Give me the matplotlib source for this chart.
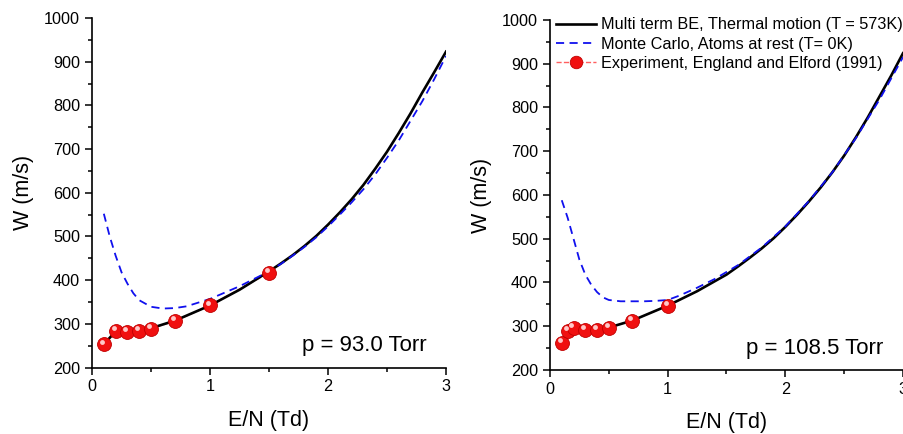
"""Drift velocity vs reduced field at two pressures."""

import matplotlib.pyplot as plt
import matplotlib.transforms as mtransforms
from matplotlib.lines import Line2D
from matplotlib.ticker import MultipleLocator

plt.rcParams["font.family"] = ["Liberation Sans", "DejaVu Sans"]

# --- p = 93.0 Torr ---
be_x_93 = [0.1, 0.2, 0.3, 0.4, 0.5, 0.7, 1.0, 1.25, 1.5, 1.6, 1.7, 1.8, 1.9, 2.0,
           2.1, 2.2, 2.3, 2.4, 2.5, 2.6, 2.7, 2.8, 2.9, 3.0]
be_w_93 = [253, 283, 284, 285, 290, 307, 342, 378, 420, 438, 457, 478, 501, 527,
           555, 585, 618, 655, 694, 737, 782, 830, 876, 923]
mc_x_93 = [0.1, 0.15, 0.2, 0.25, 0.3, 0.35, 0.4, 0.5, 0.6, 0.7, 0.8, 1.0, 1.25, 1.5,
           1.6, 1.7, 1.8, 1.9, 2.0, 2.1, 2.2, 2.3, 2.4, 2.5, 2.6, 2.7, 2.8, 2.9, 3.0]
mc_w_93 = [552, 500, 456, 418, 392, 370, 354, 339, 335, 336, 340, 357, 386, 420,
           437, 456, 476, 498, 523, 550, 578, 608, 642, 680, 720, 765, 810, 860, 913]
exp_x_93 = [0.1, 0.2, 0.3, 0.4, 0.5, 0.7, 1.0, 1.5]
exp_w_93 = [253, 283, 282, 283, 289, 306, 342, 417]

# --- p = 108.5 Torr ---
be_x_108 = [0.1, 0.15, 0.2, 0.3, 0.4, 0.5, 0.7, 1.0, 1.25, 1.5, 1.6, 1.7, 1.8, 1.9,
            2.0, 2.1, 2.2, 2.3, 2.4, 2.5, 2.6, 2.7, 2.8, 2.9, 3.0]
be_w_108 = [262, 290, 297, 291, 291, 297, 313, 347, 380, 418, 437, 457, 478, 501,
            527, 555, 585, 617, 652, 690, 732, 777, 825, 873, 924]
mc_x_108 = [0.1, 0.15, 0.2, 0.25, 0.3, 0.35, 0.4, 0.45, 0.5, 0.6, 0.7, 0.8, 0.9, 1.0,
            1.1, 1.25, 1.4, 1.6, 1.8, 2.0, 2.2, 2.4, 2.6, 2.8, 3.0]
mc_w_108 = [588, 548, 500, 452, 418, 395, 378, 366, 360, 357, 357, 357, 358, 360,
            370, 388, 408, 440, 480, 528, 586, 652, 730, 818, 915]
exp_x_108 = [0.1, 0.15, 0.2, 0.3, 0.4, 0.5, 0.7, 1.0]
exp_w_108 = [262, 290, 297, 291, 291, 297, 313, 347]

panels = [
    dict(rect=[0.1018, 0.1532, 0.3916, 0.8053], be=(be_x_93, be_w_93),
         mc=(mc_x_93, mc_w_93), exp=(exp_x_93, exp_w_93), label="p = 93.0 Torr"),
    dict(rect=[0.6084, 0.1475, 0.3905, 0.8065], be=(be_x_108, be_w_108),
         mc=(mc_x_108, mc_w_108), exp=(exp_x_108, exp_w_108), label="p = 108.5 Torr"),
]

fig = plt.figure(figsize=(9.04, 4.34), dpi=100)

for i, p in enumerate(panels):
    ax = fig.add_axes(p["rect"])
    ax.plot(*p["exp"], ls="--", color="#ff6060", lw=1.0, zorder=2)
    ax.plot(*p["be"], color="black", lw=1.9, zorder=3,
            label="Multi term BE, Thermal motion (T = 573K)")
    ax.plot(*p["mc"], ls=(0, (4.5, 3)), color="#1010ee", lw=1.3, zorder=4,
            label="Monte Carlo, Atoms at rest (T= 0K)")
    # red spheres: a filled marker plus a small offset highlight
    ax.plot(*p["exp"], ls="none", marker="o", ms=10, mfc="#f01010",
            mec="#c00000", mew=0.6, zorder=5)
    hl = mtransforms.offset_copy(ax.transData, fig=fig, x=-1.5, y=2.0, units="points")
    ax.plot(*p["exp"], ls="none", marker="o", ms=3.5, mfc="#ffc8c8",
            mec="none", zorder=6, transform=hl)

    ax.set_xlim(0, 3)
    ax.set_ylim(200, 1000)
    ax.xaxis.set_major_locator(MultipleLocator(1))
    ax.xaxis.set_minor_locator(MultipleLocator(0.5))
    ax.yaxis.set_major_locator(MultipleLocator(100))
    ax.yaxis.set_minor_locator(MultipleLocator(50))
    for s in ("top", "right"):
        ax.spines[s].set_visible(False)
    for s in ("left", "bottom"):
        ax.spines[s].set_linewidth(1.2)
    ax.tick_params(which="major", direction="out", length=5, width=1.1, labelsize=11.7)
    ax.tick_params(which="minor", direction="out", length=2.8, width=1.1)
    ax.set_xlabel("E/N (Td)", fontsize=15.5, labelpad=11)
    ax.set_ylabel("W (m/s)", fontsize=15.5, labelpad=7)
    ax.text(0.945, 0.047, p["label"], transform=ax.transAxes, fontsize=16,
            ha="right", va="baseline")

    if i == 1:
        exp_handle = Line2D([], [], ls="--", color="#ff6060", lw=1.0, marker="o",
                            ms=9, mfc="#f01010", mec="#c00000", mew=0.6)
        handles, labels = ax.get_legend_handles_labels()
        handles.append(exp_handle)
        labels.append("Experiment, England and Elford (1991)")
        ax.legend(handles, labels, loc="upper left", bbox_to_anchor=(-0.012, 1.035),
                  frameon=False, fontsize=11.7, handlelength=2.5, handletextpad=0.3,
                  labelspacing=0.25, borderaxespad=0.2)

fig.savefig("out.png", dpi=100)
